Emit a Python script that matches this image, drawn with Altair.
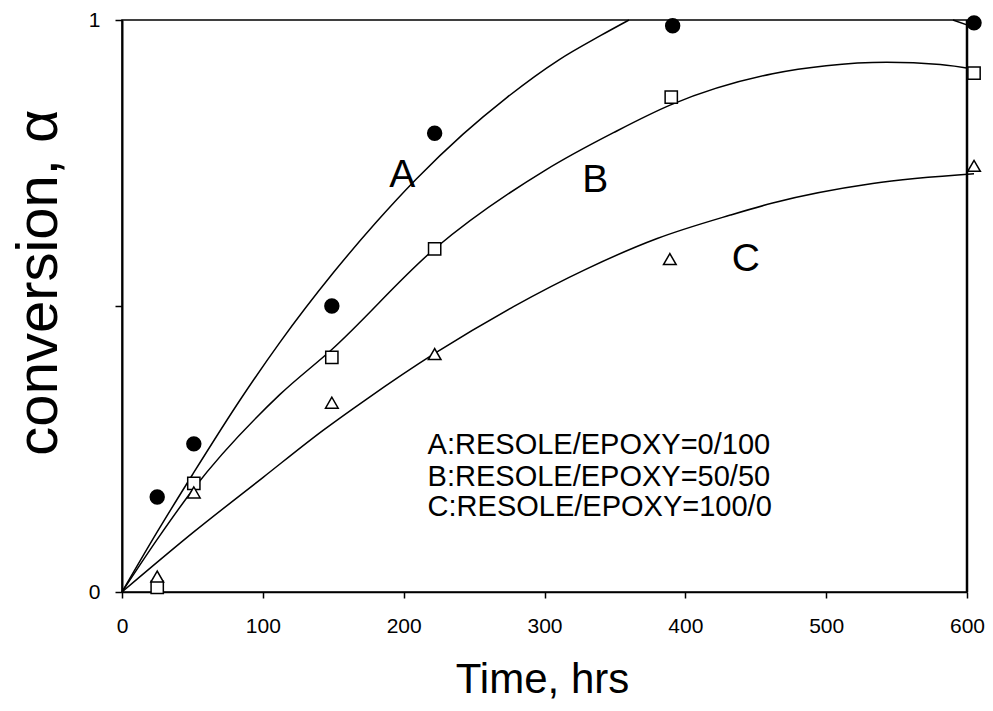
import altair as alt
import pandas as pd

FONT = "Liberation Sans"

# Measured conversion at each sampling time (hrs)
time_a = [25, 51, 149, 222, 391, 605]
conv_a = [0.166, 0.259, 0.500, 0.802, 0.990, 0.995]
time_b = [25, 51, 149, 222, 390, 605]
conv_b = [0.008, 0.190, 0.410, 0.600, 0.865, 0.907]
time_c = [25, 51, 149, 222, 389, 605]
conv_c = [0.027, 0.174, 0.331, 0.416, 0.582, 0.745]

# Fitted curves; curve A leaves the frame at x = 1 and re-enters near the end
fit_a1_t = [0, 25, 50, 85, 112, 150, 180, 209, 242, 273, 310, 340, 360]
fit_a1_x = [0, 0.105, 0.205, 0.340, 0.436, 0.558, 0.645, 0.722, 0.800, 0.864, 0.930, 0.973, 1.0]
fit_a2_t = [590, 604]
fit_a2_x = [1.0, 0.988]
fit_b_t = [0, 25, 51, 112, 149, 222, 301, 349, 390, 462, 500, 543, 581, 605]
fit_b_x = [0, 0.092, 0.181, 0.345, 0.424, 0.600, 0.738, 0.803, 0.852, 0.906, 0.920, 0.926,
           0.922, 0.914]
fit_c_t = [0, 51, 100, 143, 173, 222, 278, 330, 380, 432, 462, 533, 605]
fit_c_x = [0, 0.105, 0.200, 0.283, 0.336, 0.417, 0.499, 0.565, 0.618, 0.659, 0.680, 0.714, 0.731]

# Curve labels and composition key
letter_text = ["A", "B", "C"]
letter_t = [199, 336, 443]
letter_x = [0.729, 0.720, 0.582]
key_lines = ["A:RESOLE/EPOXY=0/100", "B:RESOLE/EPOXY=50/50", "C:RESOLE/EPOXY=100/0"]
key_t = [217, 217, 217]
key_x = [0.257, 0.201, 0.149]

x_ticks = [0, 100, 200, 300, 400, 500, 600]
y_ticks = [0, 0.5, 1]


def curve_frame(name, ts, xs):
    return pd.DataFrame({"t": ts, "x": xs, "curve": name, "i": range(len(ts))})


fits = pd.concat([
    curve_frame("A1", fit_a1_t, fit_a1_x),
    curve_frame("A2", fit_a2_t, fit_a2_x),
    curve_frame("B", fit_b_t, fit_b_x),
    curve_frame("C", fit_c_t, fit_c_x),
], ignore_index=True)

pts_a = pd.DataFrame({"t": time_a, "x": conv_a})
pts_b = pd.DataFrame({"t": time_b, "x": conv_b})
pts_c = pd.DataFrame({"t": time_c, "x": conv_c})
letters = pd.DataFrame({"t": letter_t, "x": letter_x, "label": letter_text})
key = pd.DataFrame({"t": key_t, "x": key_x, "label": key_lines})

xscale = alt.Scale(domain=[0, 600], nice=False, zero=False)
yscale = alt.Scale(domain=[0, 1], nice=False)

x_axis = alt.Axis(
    values=x_ticks, title="Time, hrs", grid=False, labelFlush=False,
    tickSize=6, labelPadding=17, domainWidth=1.5,
    titleFontSize=42, titleX=420, titleY=100, titleBaseline="alphabetic",
)
y_axis = alt.Axis(
    values=y_ticks, title="conversion, α", grid=False, labelFlush=False,
    labelExpr="datum.value == 0.5 ? '' : '' + datum.value",
    tickSize=7, labelPadding=15, domainWidth=2,
    titleFontSize=58, titleAngle=270, titleX=-66, titleY=262,
    titleAlign="center", titleBaseline="alphabetic",
)

X = alt.X("t:Q", scale=xscale, axis=x_axis)
Y = alt.Y("x:Q", scale=yscale, axis=y_axis)

lines = alt.Chart(fits).mark_line(
    color="black", strokeWidth=1.5, interpolate="monotone"
).encode(x=X, y=Y, detail="curve:N", order="i:Q")

dots_a = alt.Chart(pts_a).mark_point(
    shape="circle", filled=True, fill="black", stroke="black", size=180, opacity=1, clip=False
).encode(x="t:Q", y="x:Q")
dots_b = alt.Chart(pts_b).mark_point(
    shape="square", filled=True, fill="white", stroke="black", strokeWidth=1.5,
    size=150, opacity=1, clip=False
).encode(x="t:Q", y="x:Q")
dots_c = alt.Chart(pts_c).mark_point(
    shape="triangle-up", filled=True, fill="white", stroke="black", strokeWidth=1.5,
    size=160, opacity=1, clip=False
).encode(x="t:Q", y="x:Q")

letter_marks = alt.Chart(letters).mark_text(
    font=FONT, fontSize=39, color="black", align="center", baseline="middle"
).encode(x="t:Q", y="x:Q", text="label:N")

key_marks = alt.Chart(key).mark_text(
    font=FONT, fontSize=29, color="black", align="left", baseline="middle"
).encode(x="t:Q", y="x:Q", text="label:N")

right_edge = alt.Chart(pd.DataFrame({"t": [600]})).mark_rule(
    color="black", strokeWidth=2.5
).encode(x="t:Q")

chart = alt.layer(
    lines, right_edge, dots_a, dots_b, dots_c, letter_marks, key_marks
).properties(
    width=845, height=572,
    autosize="none",
    padding={"left": 122, "top": 20, "right": 26, "bottom": 119},
    background="white",
).configure_view(
    stroke="black", strokeWidth=1.5
).configure_axis(
    domainColor="black", tickColor="black", tickWidth=1.5,
    labelColor="black", labelFont=FONT, labelFontSize=21,
    titleColor="black", titleFont=FONT, titleFontWeight="normal",
)

chart.save("out.html", embed_options={"renderer": "svg", "actions": False})
